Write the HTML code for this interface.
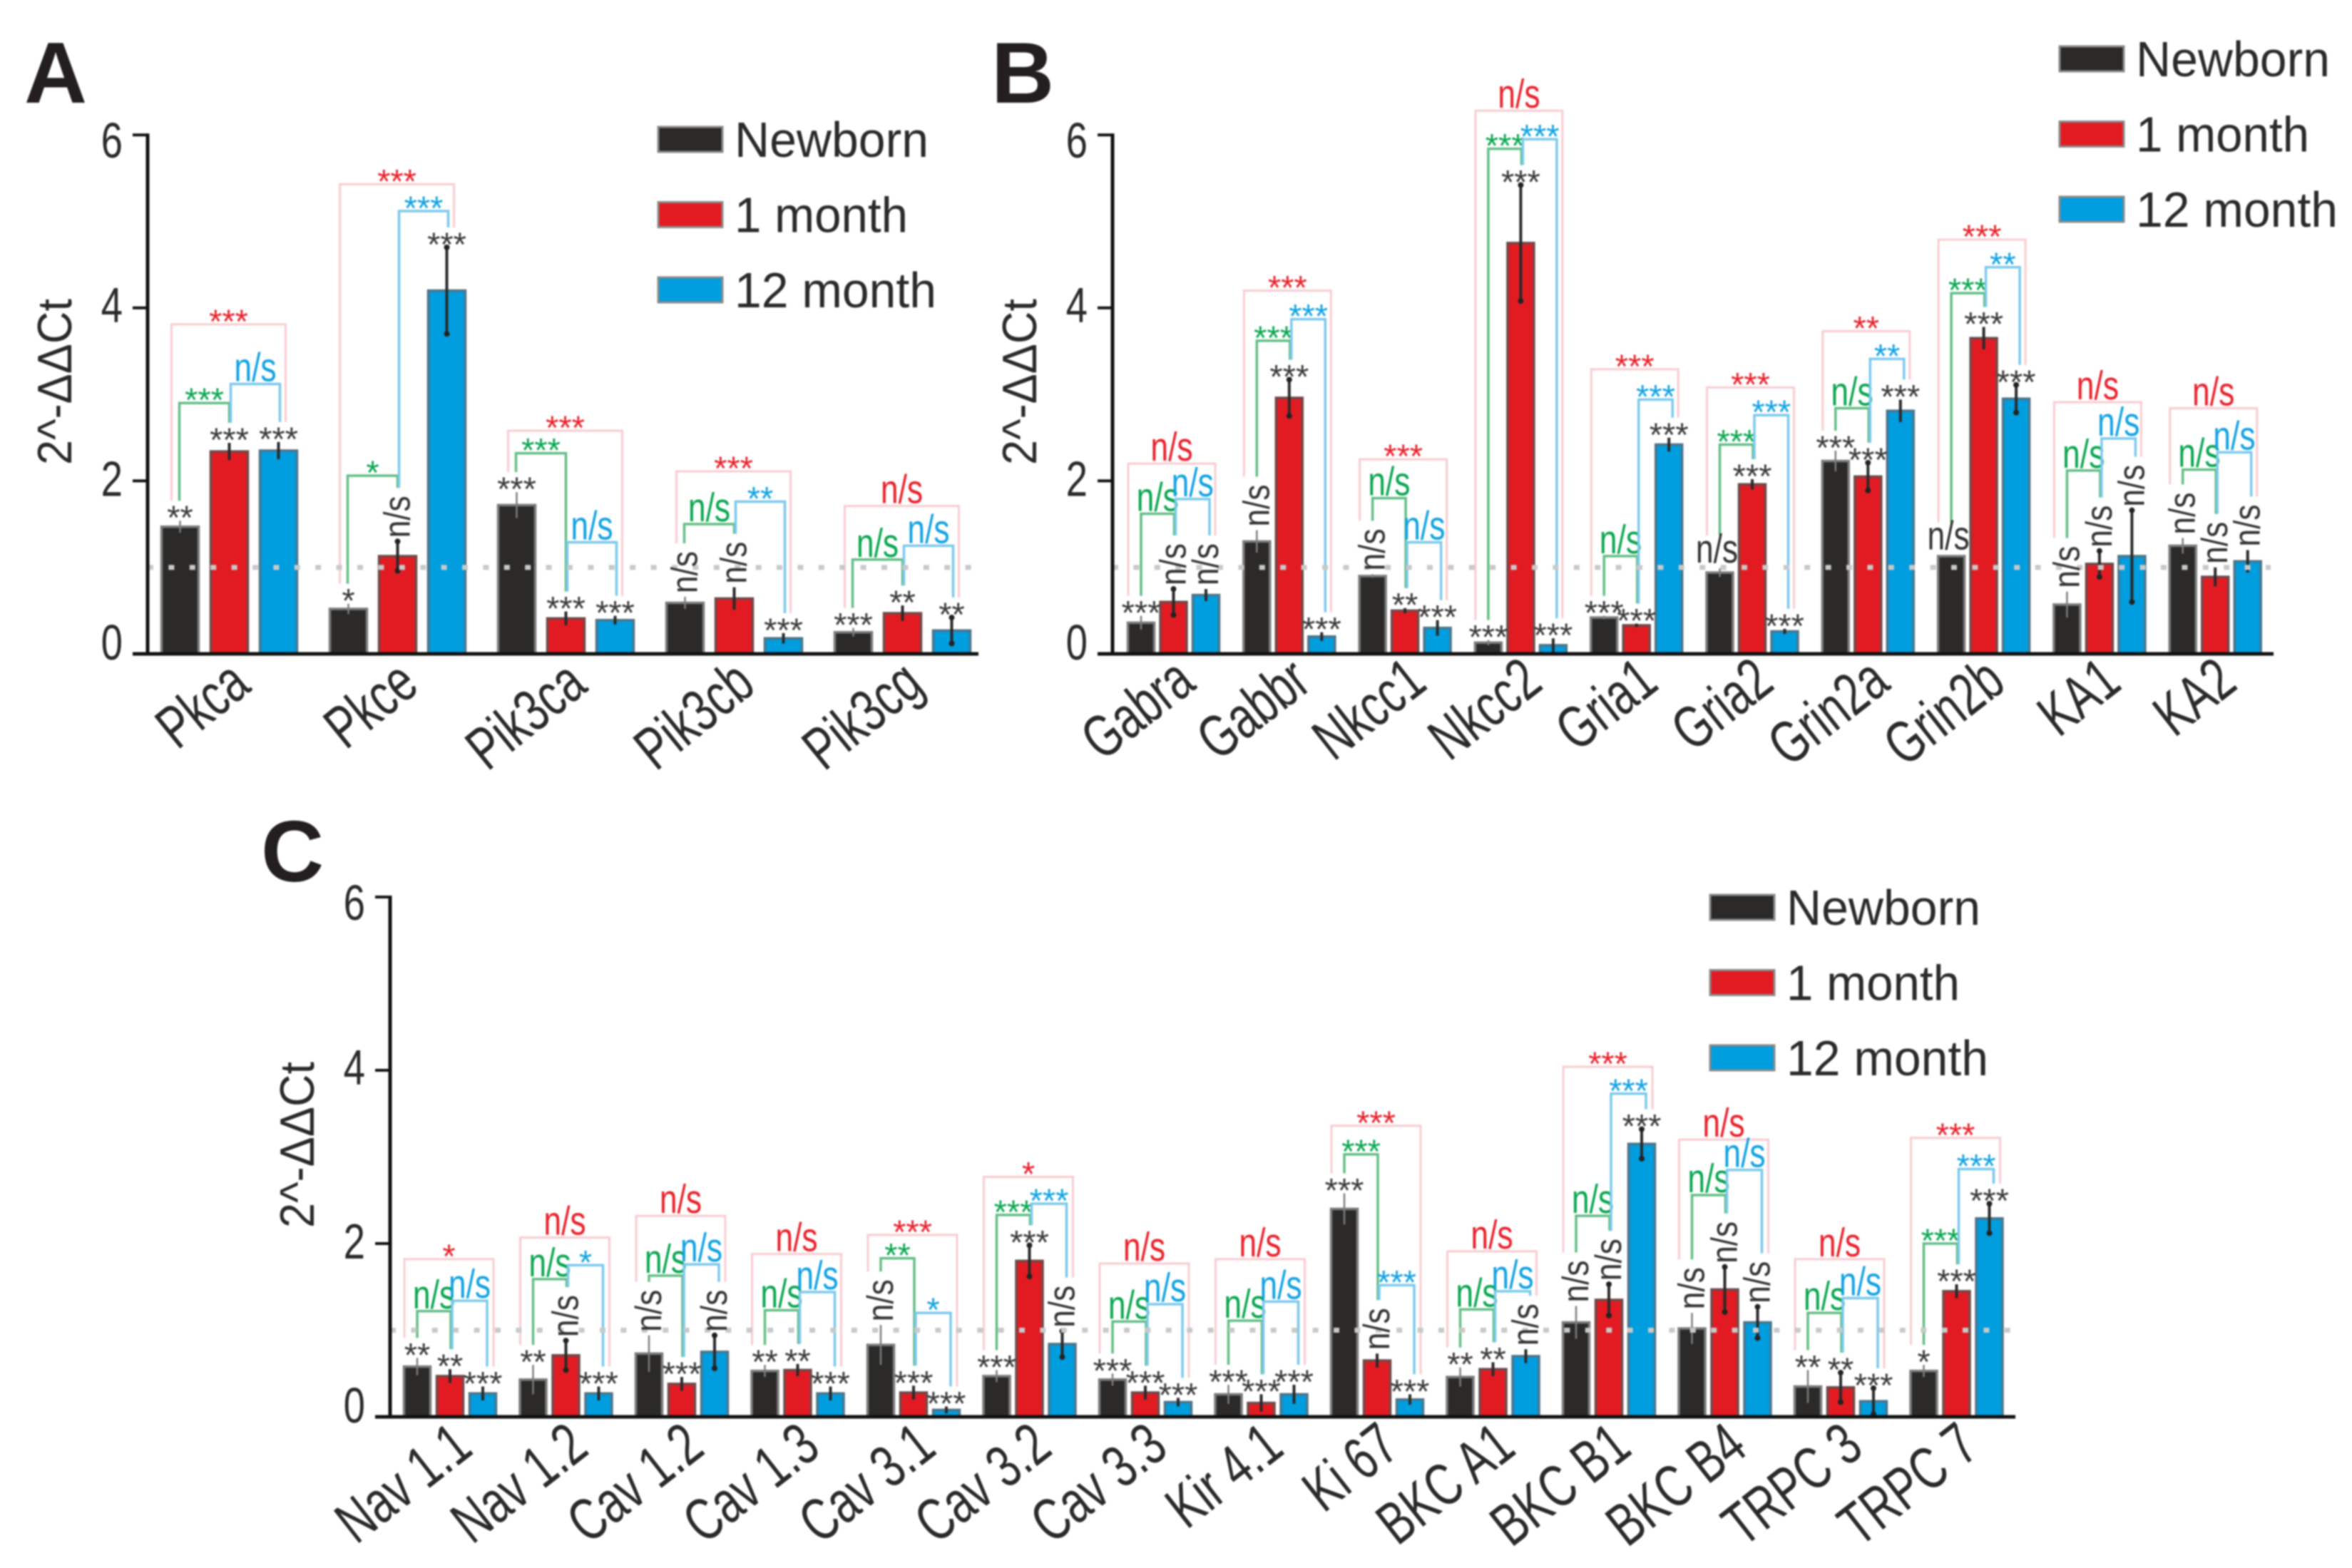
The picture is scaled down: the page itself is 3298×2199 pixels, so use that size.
<!DOCTYPE html>
<html lang="en">
<head>
<meta charset="utf-8">
<title>Gene expression chart panels</title>
<style>
html,body{margin:0;padding:0;background:#fff;width:3298px;height:2199px;overflow:hidden}
svg{display:block;filter:blur(1.1px)}
text{font-family:"Liberation Sans",sans-serif}
</style>
</head>
<body>
<svg id="chart" xmlns="http://www.w3.org/2000/svg" width="3298" height="2199" viewBox="0 0 3298 2199"></svg>
<script>
// ---- Shared labels ----
var seriesNames = ['Newborn', '1 month', '12 month'];
var yTicks = [0, 2, 4, 6];

// ---- Panel A data ----
var categoriesA = ['Pkca', 'Pkce', 'Pik3ca', 'Pik3cb', 'Pik3cg'];
var newbornA = [1.47, 0.52, 1.72, 0.59, 0.25];
var month1A = [2.34, 1.13, 0.41, 0.64, 0.47];
var month12A = [2.35, 4.2, 0.39, 0.18, 0.27];
var newbornErrA = [0.07, 0.06, 0.15, 0.07, 0.05];
var month1ErrA = [0.1, 0.17, 0.08, 0.13, 0.09];
var month12ErrA = [0.1, 0.5, 0.05, 0.06, 0.15];
var newbornSigA = ['**', '*', '***', 'n/s', '***'];
var month1SigA = ['***', 'n/s', '***', 'n/s', '**'];
var month12SigA = ['***', '***', '***', '***', '**'];
var greenLevelA = [2.9, 2.06, 2.32, 1.5, 1.09];
var blueLevelA = [3.12, 5.12, 1.29, 1.76, 1.25];
var redLevelA = [3.81, 5.43, 2.58, 2.11, 1.71];
var greenSigA = ['***', '*', '***', 'n/s', 'n/s'];
var blueSigA = ['n/s', '***', 'n/s', '**', 'n/s'];
var redSigA = ['***', '***', '***', '***', 'n/s'];

// ---- Panel B data ----
var categoriesB = ['Gabra', 'Gabbr', 'Nkcc1', 'Nkcc2', 'Gria1', 'Gria2', 'Grin2a', 'Grin2b', 'KA1', 'KA2'];
var newbornB = [0.36, 1.3, 0.9, 0.13, 0.42, 0.94, 2.23, 1.13, 0.57, 1.25];
var month1B = [0.6, 2.96, 0.5, 4.75, 0.33, 1.96, 2.05, 3.65, 1.04, 0.89];
var month12B = [0.68, 0.2, 0.3, 0.1, 2.42, 0.26, 2.81, 2.95, 1.13, 1.07];
var newbornErrB = [0.08, 0.13, 0.02, 0.03, 0.02, 0.05, 0.12, 0.01, 0.15, 0.09];
var month1ErrB = [0.15, 0.21, 0.03, 0.67, 0.02, 0.06, 0.16, 0.13, 0.15, 0.11];
var month12ErrB = [0.07, 0.05, 0.09, 0.08, 0.08, 0.03, 0.13, 0.16, 0.53, 0.13];
var newbornSigB = ['***', 'n/s', 'n/s', '***', '***', 'n/s-flat', '***', 'n/s-flat', 'n/s', 'n/s'];
var month1SigB = ['n/s', '***', '**', '***', '***', '***', '***', '***', 'n/s', 'n/s'];
var month12SigB = ['n/s', '***', '***', '***', '***', '***', '***', '***', 'n/s', 'n/s'];
var greenLevelB = [1.62, 3.62, 1.8, 5.84, 1.13, 2.42, 2.84, 4.17, 2.12, 2.13];
var blueLevelB = [1.79, 3.87, 1.29, 5.95, 2.94, 2.76, 3.41, 4.47, 2.49, 2.33];
var redLevelB = [2.2, 4.2, 2.25, 6.28, 3.29, 3.08, 3.73, 4.79, 2.91, 2.84];
var greenSigB = ['n/s', '***', 'n/s', '***', 'n/s', '***', 'n/s', '***', 'n/s', 'n/s'];
var blueSigB = ['n/s', '***', 'n/s', '***', '***', '***', '**', '**', 'n/s', 'n/s'];
var redSigB = ['n/s', '***', '***', 'n/s', '***', '***', '**', '***', 'n/s', 'n/s'];

// ---- Panel C data ----
var categoriesC = ['Nav 1.1', 'Nav 1.2', 'Cav 1.2', 'Cav 1.3', 'Cav 3.1', 'Cav 3.2', 'Cav 3.3', 'Kir 4.1', 'Ki 67', 'BKC A1', 'BKC B1', 'BKC B4', 'TRPC 3', 'TRPC 7'];
var newbornC = [0.58, 0.43, 0.73, 0.53, 0.83, 0.47, 0.43, 0.26, 2.4, 0.46, 1.09, 1.02, 0.35, 0.53];
var month1C = [0.47, 0.71, 0.38, 0.54, 0.28, 1.8, 0.28, 0.16, 0.65, 0.55, 1.35, 1.47, 0.34, 1.45];
var month12C = [0.27, 0.27, 0.75, 0.27, 0.08, 0.84, 0.17, 0.26, 0.2, 0.7, 3.15, 1.09, 0.18, 2.29];
var newbornErrC = [0.1, 0.17, 0.21, 0.07, 0.23, 0.07, 0.07, 0.11, 0.18, 0.11, 0.19, 0.18, 0.19, 0.07];
var month1ErrC = [0.08, 0.17, 0.08, 0.07, 0.08, 0.18, 0.08, 0.1, 0.08, 0.08, 0.18, 0.26, 0.17, 0.08];
var month12ErrC = [0.08, 0.08, 0.19, 0.08, 0.04, 0.15, 0.05, 0.11, 0.06, 0.08, 0.17, 0.18, 0.15, 0.17];
var newbornSigC = ['**', '**', 'n/s', '**', 'n/s', '***', '***', '***', '***', '**', 'n/s', 'n/s', '**', '*'];
var month1SigC = ['**', 'n/s', '***', '**', '***', '***', '***', '***', 'n/s', '**', 'n/s', 'n/s', '**', '***'];
var month12SigC = ['***', '***', 'n/s', '***', '***', 'n/s', '***', '***', '***', 'n/s', '***', 'n/s', '***', '***'];
var greenLevelC = [1.22, 1.59, 1.63, 1.23, 1.83, 2.33, 1.1, 1.11, 3.03, 1.24, 2.32, 2.56, 1.2, 2.0];
var blueLevelC = [1.34, 1.75, 1.76, 1.44, 1.2, 2.46, 1.3, 1.33, 1.52, 1.45, 3.73, 2.85, 1.37, 2.86];
var redLevelC = [1.82, 2.07, 2.32, 1.88, 2.1, 2.77, 1.77, 1.82, 3.36, 1.91, 4.04, 3.2, 1.82, 3.22];
var greenSigC = ['n/s', 'n/s', 'n/s', 'n/s', '**', '***', 'n/s', 'n/s', '***', 'n/s', 'n/s', 'n/s', 'n/s', '***'];
var blueSigC = ['n/s', '*', 'n/s', 'n/s', '*', '***', 'n/s', 'n/s', '***', 'n/s', '***', 'n/s', 'n/s', '***'];
var redSigC = ['*', 'n/s', 'n/s', 'n/s', '***', '*', 'n/s', 'n/s', '***', 'n/s', '***', 'n/s', 'n/s', '***'];

var NS = 'http://www.w3.org/2000/svg';
var root = document.getElementById('chart');
var INK = '#2b2a29';
var barFill = ['#2b2a29', '#e21b23', '#009ddf'];
var barStroke = ['#7c7c7c', '#6e4a4a', '#4f7488'];
var errColor = ['#7d7d7d', '#2a2a2a', '#2a2a2a'];
var errWidth = [2.5, 4, 4];
var seriesKeys = ['newborn', '1-month', '12-month'];

function mk(tag, attrs, parent, txt) {
  var el = document.createElementNS(NS, tag);
  for (var k in attrs) el.setAttribute(k, attrs[k]);
  if (txt !== undefined) el.textContent = txt;
  (parent || root).appendChild(el);
  return el;
}

function drawSig(g, label, cx, cy, color, name) {
  // stars: cy is the visual centre of the asterisks
  var el = mk('text', {x: cx, y: cy + 26, 'text-anchor': 'middle', 'font-size': 47, fill: color}, g, label);
  
  
}

function drawPanel(p) {
  var g = mk('g', {}, root);
  
  

  function yScale(v) { return p.y0 - v * p.unit; }
  function xScale(groupIndex, seriesIndex) { return p.x0 + groupIndex * p.groupStep + seriesIndex * p.barStep; }

  var series = [p.newborn, p.month1, p.month12];
  var errs = [p.newbornErr, p.month1Err, p.month12Err];
  var sigs = [p.newbornSig, p.month1Sig, p.month12Sig];

  // panel letter
  var letter = mk('text', {x: p.letterX, y: p.letterY, 'font-size': 122, 'font-weight': 'bold', fill: '#231f20'}, g, p.letter);
  
  

  // height of the label sitting on a bar, in px
  function labelHeight(s) {
    if (s === 'n/s') return 75;
    if (s === 'n/s-flat') return 46;
    return 28;
  }

  // brackets
  p.categories.forEach(function (cat, i) {
    var xn = xScale(i, 0) + p.bracketDx, xr = xScale(i, 1) + p.bracketDx, xb = xScale(i, 2) + p.bracketDx;
    var legN = yScale(p.newborn[i] + p.newbornErr[i]) - labelHeight(p.newbornSig[i]);
    var legR = yScale(p.month1[i] + p.month1Err[i]) - labelHeight(p.month1Sig[i]);
    var legB = yScale(p.month12[i] + p.month12Err[i]) - labelHeight(p.month12Sig[i]);

    var defs = [
      {key: 'red', lvl: p.redLevel[i], sig: p.redSig[i], xa: xn + p.redL, xz: xb + p.redR, la: legN, lz: legB, stroke: '#f8ccd0', fill: '#e8212b', w: 3},
      {key: 'green', lvl: p.greenLevel[i], sig: p.greenSig[i], xa: xn, xz: xr + 1, la: legN, lz: legR, stroke: '#63bd86', fill: '#0aa650', w: 3.5},
      {key: 'blue', lvl: p.blueLevel[i], sig: p.blueSig[i], xa: xr + 3, xz: xb + p.blueR, la: legR, lz: legB, stroke: '#7cc9ee', fill: '#12a2e2', w: 3.5}
    ];
    defs.forEach(function (d) {
      var top = yScale(d.lvl);
      var br = mk('polyline', {points: d.xa + ',' + d.la + ' ' + d.xa + ',' + top + ' ' + d.xz + ',' + top + ' ' + d.xz + ',' + d.lz, fill: 'none', stroke: d.stroke, 'stroke-width': d.w}, g);
      
      
      var mx = (d.xa + d.xz) / 2;
      if (d.sig === 'n/s') {
        var t = mk('text', {transform: 'translate(' + mx + ',' + (top - 4) + ') scale(0.78,1)', 'text-anchor': 'middle', 'font-size': 57, fill: d.fill}, g, 'n/s');
        
        
      } else {
        drawSig(g, d.sig, mx, top - 14, d.fill, 'significance-' + d.key + '-' + cat);
      }
    });
  });

  // bars and error bars
  p.categories.forEach(function (cat, i) {
    series.forEach(function (vals, s) {
      var cx = xScale(i, s);
      var top = yScale(vals[i]);
      var bar = mk('rect', {x: cx - p.barW / 2, y: top, width: p.barW, height: p.y0 - top, fill: barFill[s], stroke: barStroke[s], 'stroke-width': 3.5}, g);
      
      

      var e = errs[s][i];
      var yHi = yScale(vals[i] + e);
      var yLo = Math.min(yScale(vals[i] - e), p.y0);
      var eb = mk('line', {x1: cx, x2: cx, y1: yHi, y2: yLo, stroke: errColor[s], 'stroke-width': errWidth[s]}, g);
      
      
      if (s > 0 && e >= 0.15) {
        var capHi = mk('circle', {cx: cx, cy: yHi, r: 4, fill: '#222'}, g);
        
        
        var capLo = mk('circle', {cx: cx, cy: yLo, r: 4, fill: '#222'}, g);
        
        
      }
    });
  });

  // reference line at 1
  var ref = mk('line', {x1: p.axisX, x2: p.xEnd - 4, y1: yScale(1), y2: yScale(1), stroke: '#c9c9c9', 'stroke-width': 7, 'stroke-dasharray': '8 21.4'}, g);
  
  

  // bar significance labels
  p.categories.forEach(function (cat, i) {
    series.forEach(function (vals, s) {
      var cx = xScale(i, s);
      var errTop = yScale(vals[i] + errs[s][i]);
      var sig = sigs[s][i];
      if (sig === 'n/s') {
        var rot = mk('text', {transform: 'translate(' + (cx + 17) + ',' + (errTop - 5) + ') rotate(-90) scale(0.85,1)', 'font-size': 52, fill: '#333'}, g, 'n/s');
        
        
      } else if (sig === 'n/s-flat') {
        var flat = mk('text', {transform: 'translate(' + (cx - 4) + ',' + (errTop - 8) + ') scale(0.78,1)', 'text-anchor': 'middle', 'font-size': 57, fill: '#333'}, g, 'n/s');
        
        
      } else {
        drawSig(g, sig, cx, errTop - 14, '#3a3a3a', 'bar-significance-' + cat + '-' + seriesKeys[s]);
      }
    });
  });

  // axes
  var ya = mk('line', {x1: p.axisX, x2: p.axisX, y1: yScale(6) - 2, y2: p.y0, stroke: '#111', 'stroke-width': 5}, g);
  
  
  var xa = mk('line', {x1: p.axisX - 21, x2: p.xEnd, y1: p.y0, y2: p.y0, stroke: '#111', 'stroke-width': 5}, g);
  
  

  var tickNudge = {0: -17, 2: -4, 4: -5, 6: 7};
  yTicks.forEach(function (v) {
    if (v > 0) {
      var tk = mk('line', {x1: p.axisX - 21, x2: p.axisX, y1: yScale(v), y2: yScale(v), stroke: '#111', 'stroke-width': 4}, g);
      
      
    }
    var tl = mk('text', {transform: 'translate(' + (p.axisX - 35) + ',' + (yScale(v) + tickNudge[v] + 25) + ') scale(0.78,1)', 'text-anchor': 'end', 'font-size': 70, fill: INK}, g, String(v));
    
    
  });

  // y axis title
  var yt = mk('text', {transform: 'translate(' + (p.axisX - 107) + ',' + (p.y0 - 265) + ') rotate(-90)', 'text-anchor': 'start', 'font-size': 68, fill: INK, textLength: 233, lengthAdjust: 'spacingAndGlyphs'}, g, '2^-\u0394\u0394Ct');
  
  

  // category labels
  p.categories.forEach(function (cat, i) {
    var cl = mk('text', {transform: 'translate(' + (xScale(i, 1) + p.labelDx) + ',' + (p.y0 + p.labelDy) + ') rotate(' + p.labelAngle + ') scale(0.73,1)', 'text-anchor': 'end', 'font-size': 84, fill: INK}, g, cat);
    
    
  });

  // legend
  seriesNames.forEach(function (name, s) {
    var cy = p.legendY + s * 105.5;
    var sw = mk('rect', {x: p.legendX, y: cy - 18, width: 90, height: 35, fill: barFill[s], stroke: '#8a8a8a', 'stroke-width': 3}, g);
    
    
    var lt = mk('text', {x: p.legendX + 107, y: cy + 24, 'font-size': 70, fill: INK, textLength: [272, 243, 283][s], lengthAdjust: 'spacingAndGlyphs'}, g, name);
    
    
  });
}

drawPanel({
  letter: 'A', letterX: 34, letterY: 144,
  categories: categoriesA, newborn: newbornA, month1: month1A, month12: month12A,
  newbornErr: newbornErrA, month1Err: month1ErrA, month12Err: month12ErrA,
  newbornSig: newbornSigA, month1Sig: month1SigA, month12Sig: month12SigA,
  greenLevel: greenLevelA, blueLevel: blueLevelA, redLevel: redLevelA,
  greenSig: greenSigA, blueSig: blueSigA, redSig: redSigA,
  axisX: 207, xEnd: 1372, y0: 917, unit: 121.3,
  x0: 252.5, groupStep: 236, barStep: 69, barW: 52,
  bracketDx: -1, redL: -11, redR: 11, blueR: 3,
  labelDx: 33, labelDy: 50, labelAngle: -39,
  legendX: 923, legendY: 196
});
drawPanel({
  letter: 'B', letterX: 1390, letterY: 144,
  categories: categoriesB, newborn: newbornB, month1: month1B, month12: month12B,
  newbornErr: newbornErrB, month1Err: month1ErrB, month12Err: month12ErrB,
  newbornSig: newbornSigB, month1Sig: month1SigB, month12Sig: month12SigB,
  greenLevel: greenLevelB, blueLevel: blueLevelB, redLevel: redLevelB,
  greenSig: greenSigB, blueSig: blueSigB, redSig: redSigB,
  axisX: 1560, xEnd: 3188, y0: 917, unit: 121.3,
  x0: 1600, groupStep: 162.3, barStep: 45.5, barW: 37,
  bracketDx: 0, redL: -18, redR: 13, blueR: 5,
  labelDx: 34, labelDy: 47, labelAngle: -38,
  legendX: 2888, legendY: 83
});
drawPanel({
  letter: 'C', letterX: 366, letterY: 1236,
  categories: categoriesC, newborn: newbornC, month1: month1C, month12: month12C,
  newbornErr: newbornErrC, month1Err: month1ErrC, month12Err: month12ErrC,
  newbornSig: newbornSigC, month1Sig: month1SigC, month12Sig: month12SigC,
  greenLevel: greenLevelC, blueLevel: blueLevelC, redLevel: redLevelC,
  greenSig: greenSigC, blueSig: blueSigC, redSig: redSigC,
  axisX: 547, xEnd: 2826, y0: 1987, unit: 121.5,
  x0: 585, groupStep: 162.5, barStep: 46, barW: 37,
  bracketDx: 0, redL: -18, redR: 15, blueR: 6,
  labelDx: 35, labelDy: 50, labelAngle: -38,
  legendX: 2398, legendY: 1273
});
</script>
</body>
</html>
